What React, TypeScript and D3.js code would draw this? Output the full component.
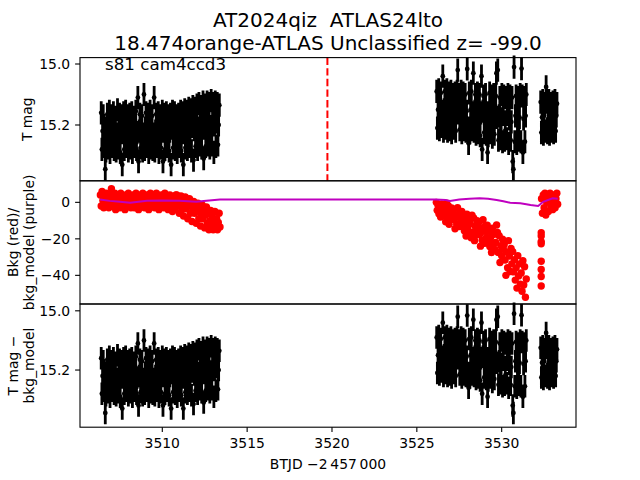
import React from 'react';
import * as d3 from 'd3';

const FONT = "'DejaVu Sans', sans-serif";

const TITLE_LINES = ['AT2024qiz  ATLAS24lto', '18.474orange-ATLAS Unclassified z= -99.0'];
const SECTOR_LABEL = 's81 cam4ccd3';
const X_LABEL = 'BTJD \u22122\u2009457\u2009000';
const X_TICKS = [3510, 3515, 3520, 3525, 3530];
const MAG_TICKS = [15.0, 15.2];
const BKG_TICKS = [0, -20, -40];
const EVENT_TIME = 3519.73;

// photometry: magnitudes at the 0.04 d cadence from each segment start
const CADENCE = 0.04;
const MAG_ERR = 0.038;
const LEFT_T0 = 3506.4;
const LEFT_MAG = [
  15.16, 15.28, 15.22, 15.17, 15.27, 15.21, 15.345, 15.285, 15.23,
  15.165, 15.275, 15.215, 15.155, 15.29, 15.225, 15.17, 15.27, 15.22,
  15.16, 15.28, 15.21, 15.175, 15.285, 15.23, 15.15, 15.275, 15.22,
  15.165, 15.29, 15.215, 15.17, 15.33, 15.225, 15.16, 15.28, 15.21,
  15.155, 15.27, 15.22, 15.17, 15.285, 15.23, 15.165, 15.275, 15.215,
  15.16, 15.29, 15.22, 15.175, 15.27, 15.21, 15.155, 15.28, 15.225,
  15.11, 15.32, 15.22, 15.165, 15.275, 15.215, 15.17, 15.285, 15.23,
  15.1, 15.28, 15.21, 15.16, 15.27, 15.22, 15.165, 15.29, 15.225,
  15.155, 15.275, 15.215, 15.17, 15.28, 15.23, 15.11, 15.285, 15.22,
  15.165, 15.27, 15.21, 15.16, 15.29, 15.225, 15.17, 15.275, 15.215,
  15.155, 15.32, 15.22, 15.165, 15.28, 15.23, 15.16, 15.27, 15.215,
  15.17, 15.285, 15.22, 15.165, 15.33, 15.21, 15.155, 15.275, 15.225,
  15.16, 15.28, 15.215, 15.17, 15.29, 15.22, 15.165, 15.27, 15.23,
  15.155, 15.285, 15.21, 15.16, 15.33, 15.225, 15.15, 15.275, 15.215,
  15.155, 15.28, 15.21, 15.145, 15.27, 15.22, 15.15, 15.285, 15.205,
  15.14, 15.315, 15.215, 15.145, 15.27, 15.2, 15.135, 15.28, 15.21,
  15.13, 15.265, 15.205, 15.14, 15.275, 15.2, 15.125, 15.31, 15.21,
  15.135, 15.27, 15.195, 15.125, 15.265, 15.2, 15.13, 15.275, 15.205,
  15.12, 15.265, 15.195, 15.13, 15.29, 15.2, 15.125, 15.27, 15.19,
  15.13, 15.265, 15.2, 15.135,
];
const RIGHT_T0 = 3526.17;
const RIGHT_MAG = [
  15.09, 15.21, 15.15, 15.085, 15.215, 15.145, 15.095, 15.205, 15.155,
  15.04, 15.22, 15.15, 15.09, 15.21, 15.14, 15.085, 15.22, 15.155,
  15.095, 15.215, 15.15, 15.09, 15.225, 15.16, 15.1, 15.21, 15.155,
  15.095, 15.22, 15.15, 15.09, 15.02, 15.16, 15.1, 15.215, 15.155,
  15.09, 15.225, 15.15, 15.095, 15.215, 15.16, 15.1, 15.22, 15.155,
  15.016, 15.21, 15.26, 15.095, 15.225, 15.15, 15.09, 15.215, 15.16,
  15.03, 15.22, 15.155, 15.1, 15.23, 15.16, 15.095, 15.225, 15.165,
  15.1, 15.235, 15.16, 15.04, 15.28, 15.155, 15.105, 15.225, 15.165,
  15.1, 15.23, 15.16, 15.29, 15.235, 15.17, 15.095, 15.225, 15.16,
  15.105, 15.24, 15.165, 15.1, 15.23, 15.17, 15.105, 15.03, 15.175,
  15.02, 15.25, 15.17, 15.11, 15.245, 15.18, 15.1, 15.255, 15.165,
  15.105, 15.25, 15.19, 15.11, 15.245, 15.165, 15.1, 15.26, 15.18,
  15.105, 15.25, 15.19, 15.11, 15.32, 15.345, 15.01, 15.255, 15.17,
  15.105, 15.26, 15.185, 15.11, 15.25, 15.175, 15.1, 15.255, 15.015,
  15.105, 15.29, 15.18, 15.11, 15.255, 15.17, 15.1,
];
const SMALL_T0 = 3532.3;
const SMALL_MAG = [
  15.125, 15.225, 15.175, 15.12, 15.23, 15.17, 15.13, 15.22, 15.075, 15.125,
  15.225, 15.18, 15.12, 15.23, 15.175, 15.13, 15.22, 15.17, 15.125, 15.225,
  15.175, 15.12, 15.22, 15.17, 15.13,
];

// background (red) at 0.05 d steps
const BKG_STEP = 0.05;
const LEFT_BKG_T0 = 3506.35;
const LEFT_BKG = [
  4, -2, 6, 1, -3, 3, 0, 5, -1, 2,
  -3, 4, 1, 7.5, -2, 3, 0, 5, -4, 2,
  -1, 4, 1, -3, 5, 2, -2, 3, 0, -4,
  4, 1, -2, 5, 0, 3, -3, 2, -1, 4,
  -3, 1, 5, -1, 3, -4, 2, 0, 4, -2,
  5, 1, -3, 3, -1, 4, 0, -4, 2, 5,
  -2, 3, 0, 4, -3, 1, 5, -1, 2, -4,
  3, 0, 4, -2, 1, -3, 5, 2, -1, 3,
  -4, 1, 4, -2, 2, -5, 3, 0, -3, 4,
  4, -2, 1, -6, -0.5, 3.5, -4, 0, -7.5, -2.5,
  3, -3.5, 0, -9, -2, 2, -6, -1, -10.5, -4.5,
  0.5, -6, -2.5, -11.5, -4.5, -0.5, -9, -3.5, -13, -7,
  -1.5, -9, -5, -14, -7, -2.5, -11.5, -6, -15, -10,
  -4.5, -12, -8, -15, -10, -5, -13, -9, -15, -11, -6, -13.5,
];
const RIGHT_BKG_T0 = 3526.15;
const RIGHT_BKG = [
  0, -4.4, -1.8, -6.2, -3.6, -8, -0.9, -5.3, -2.7, -7.1,
  -4.3, -10.7, -0.5, -8.2, -1.8, -12, -5.6, -9.4, -3.1, -6.9,
  -4.3, -9.4, -14.5, -6.8, -11.9, -3, -8.1, -13.2, -5.6, -10.7,
  -5, -12.5, -8, -15.5, -11, -18.5, -6.5, -14, -9.5, -17,
  -11.7, -19.4, -7, -16.3, -8.6, -21, -13.2, -17.9, -10.1, -14.8,
  -11.1, -17.6, -24, -14.3, -20.8, -9.5, -15.9, -22.4, -12.7, -19.2,
  -12.5, -20.8, -15.8, -24.2, -19.2, -27.5, -14.2, -22.5, -17.5, -25.8,
  -22, -12.4, -16.5, -27.5, -18.3, -33, -23.8, -29.3, -20.2, -25.7,
  -23.1, -31.6, -40, -27.3, -35.8, -21, -29.4, -37.9, -25.2, -33.7,
  -27, -38.1, -31.4, -42.6, -35.9, -47, -29.2, -40.3, -33.7, -44.8,
  -38.7, -48.7, -32, -45.3, -35.3, -52, -42,
];
const SMALL_BKG_T0 = 3532.35;
const SMALL_BKG = [2, -6, 4, -3, 5, -7, 0, 3, -5, 1, 5, -2, 3, -4, 1, 4, -3, 2, 5, -1];
const DROP_BKG_T = 3532.33;
const DROP_BKG = [-16.6, -18.4, -21.5, -22.7, -32.3, -36.8, -40.6, -45.8];

// background model (purple)
const MODEL_T = [
  3506.33, 3506.9, 3507.5, 3508.1, 3508.6, 3509.1, 3510.0, 3511.0, 3512.0, 3512.6, 3513.4,
  3526.1, 3526.7, 3526.95, 3527.5, 3528.1, 3528.7, 3529.2, 3529.7, 3530.1, 3530.5, 3531.1,
  3531.45, 3531.7, 3532.15, 3532.45, 3533.0, 3533.3,
];
const MODEL_V = [
  1.6, 0.8, 0.3, -0.2, 0.3, 0.9, 1.0, 0.9, 0.3, 0.9, 1.6,
  1.6, 1.3, 0.8, 1.6, 1.9, 2.2, 1.9, 1.3, 0.6, -0.2, -0.5,
  -1.0, -1.5, -2.0, 0.3, 2.2, 2.0,
];

type P = { t: number; v: number };
const series = (t0: number, step: number, vals: number[]): P[] =>
  vals.map((v, i) => ({ t: t0 + i * step, v }));

const MAG_POINTS: P[] = [
  ...series(LEFT_T0, CADENCE, LEFT_MAG),
  ...series(RIGHT_T0, CADENCE, RIGHT_MAG),
  ...series(SMALL_T0, CADENCE, SMALL_MAG),
];
const BKG_POINTS: P[] = [
  ...series(LEFT_BKG_T0, BKG_STEP, LEFT_BKG),
  ...series(RIGHT_BKG_T0, BKG_STEP, RIGHT_BKG),
  ...series(SMALL_BKG_T0, BKG_STEP, SMALL_BKG),
  ...DROP_BKG.map((v) => ({ t: DROP_BKG_T, v })),
];
const MODEL_POINTS: P[] = MODEL_T.map((t, i) => ({ t, v: MODEL_V[i] }));

const L = 80, R = 576;
const PANELS = [57.6, 180.8, 304, 427.2];

const x = d3.scaleLinear().domain([3505.15, 3534.38]).range([L, R]);
const yTop = d3.scaleLinear().domain([14.979, 15.383]).range([PANELS[0], PANELS[1]]);
const yMid = d3.scaleLinear().domain([11.8, -55.7]).range([PANELS[1], PANELS[2]]);
const yBot = d3.scaleLinear().domain([14.977, 15.393]).range([PANELS[2], PANELS[3]]);

function ErrPoints({ y, pts }: { y: d3.ScaleLinear<number, number>; pts: P[] }) {
  const bars = pts
    .map((p) => `M${x(p.t).toFixed(2)},${y(p.v - MAG_ERR).toFixed(2)}V${y(p.v + MAG_ERR).toFixed(2)}`)
    .join('');
  return (
    <g>
      <path d={bars} stroke="#000" strokeWidth={2.8} fill="none" />
      {pts.map((p, i) => (
        <circle key={i} cx={x(p.t)} cy={y(p.v)} r={2.4} fill="#000" />
      ))}
    </g>
  );
}

function YAxis({ y, ticks, fmt }: { y: d3.ScaleLinear<number, number>; ticks: number[]; fmt: (n: number) => string }) {
  return (
    <g>
      {ticks.map((t) => (
        <g key={t}>
          <line x1={L - 4.9} x2={L} y1={y(t)} y2={y(t)} stroke="#000" strokeWidth={1.1} />
          <text x={L - 9.8} y={y(t) + 5} textAnchor="end" fontSize={13.9} fontFamily={FONT}>
            {fmt(t)}
          </text>
        </g>
      ))}
    </g>
  );
}

function Frame({ top, bottom }: { top: number; bottom: number }) {
  return <rect x={L} y={top} width={R - L} height={bottom - top} fill="none" stroke="#000" strokeWidth={1.1} />;
}

function RotLabel({ lines, cy }: { lines: { text: string; x: number }[]; cy: number }) {
  return (
    <g>
      {lines.map((l, i) => (
        <text
          key={i}
          transform={`translate(${l.x},${cy}) rotate(-90)`}
          textAnchor="middle"
          dominantBaseline="central"
          fontSize={13.9}
          fontFamily={FONT}
        >
          {l.text}
        </text>
      ))}
    </g>
  );
}

export default function App() {
  const magFmt = d3.format('.1f');
  const bkgFmt = (n: number) => (n < 0 ? '\u2212' + Math.abs(n) : String(n));
  const modelLine = d3
    .line<P>()
    .x((d) => x(d.t))
    .y((d) => yMid(d.v))(MODEL_POINTS) as string;

  return (
    <svg
      width={640}
      height={480}
      style={{ position: 'absolute', left: 0, top: 0, background: '#fff' }}
    >
      <rect width={640} height={480} fill="#fff" />
      {TITLE_LINES.map((t, i) => (
        <text
          key={i}
          x={328}
          y={27 + i * 23}
          textAnchor="middle"
          fontSize={20}
          fontFamily={FONT}
          style={{ whiteSpace: 'pre' }}
        >
          {t}
        </text>
      ))}

      {/* top panel */}
      <g>
        <ErrPoints y={yTop} pts={MAG_POINTS} />
        <line
          x1={x(EVENT_TIME)}
          x2={x(EVENT_TIME)}
          y1={PANELS[0]}
          y2={PANELS[1]}
          stroke="#ff0000"
          strokeWidth={2}
          strokeDasharray="7.4,3.2"
        />
        <text x={105} y={70} fontSize={16.7} fontFamily={FONT}>
          {SECTOR_LABEL}
        </text>
        <Frame top={PANELS[0]} bottom={PANELS[1]} />
        <YAxis y={yTop} ticks={MAG_TICKS} fmt={magFmt} />
        <RotLabel lines={[{ text: 'T mag', x: 27 }]} cy={(PANELS[0] + PANELS[1]) / 2} />
      </g>

      {/* middle panel */}
      <g>
        {BKG_POINTS.map((p, i) => (
          <circle key={i} cx={x(p.t)} cy={yMid(p.v)} r={3.7} fill="#ff0000" />
        ))}
        <path d={modelLine} stroke="#bf00bf" strokeWidth={2} fill="none" />
        <Frame top={PANELS[1]} bottom={PANELS[2]} />
        <YAxis y={yMid} ticks={BKG_TICKS} fmt={bkgFmt} />
        <RotLabel
          lines={[
            { text: 'Bkg (red)/', x: 13 },
            { text: 'bkg_model (purple)', x: 29 },
          ]}
          cy={(PANELS[1] + PANELS[2]) / 2}
        />
      </g>

      {/* bottom panel */}
      <g>
        <ErrPoints y={yBot} pts={MAG_POINTS} />
        <Frame top={PANELS[2]} bottom={PANELS[3]} />
        <YAxis y={yBot} ticks={MAG_TICKS} fmt={magFmt} />
        <RotLabel
          lines={[
            { text: 'T mag \u2212', x: 13 },
            { text: 'bkg_model', x: 29 },
          ]}
          cy={(PANELS[2] + PANELS[3]) / 2}
        />
        {X_TICKS.map((t) => (
          <g key={t}>
            <line x1={x(t)} x2={x(t)} y1={PANELS[3]} y2={PANELS[3] + 4.9} stroke="#000" strokeWidth={1.1} />
            <text x={x(t)} y={448} textAnchor="middle" fontSize={13.9} fontFamily={FONT}>
              {t}
            </text>
          </g>
        ))}
        <text x={328} y={469} textAnchor="middle" fontSize={13.9} fontFamily={FONT}>
          {X_LABEL}
        </text>
      </g>
    </svg>
  );
}
